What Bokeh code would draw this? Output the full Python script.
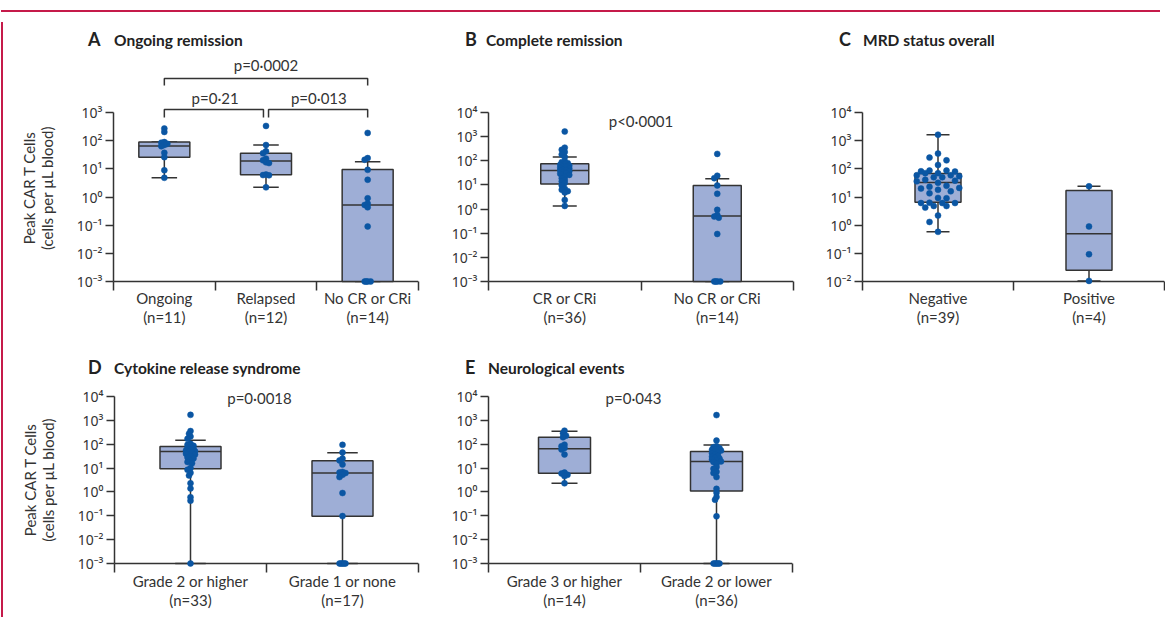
import numpy as np
from bokeh.plotting import figure
from bokeh.models import Range1d, FixedTicker, Label, ColumnDataSource, Div, Span
from bokeh.layouts import row, column
from bokeh.embed import file_html
from bokeh.resources import INLINE

# ---------------- data ----------------
# A  Ongoing remission
a_cats = ["Ongoing\n(n=11)", "Relapsed\n(n=12)", "No CR or CRi\n(n=14)"]
a_ongoing = [270, 204, 89, 85, 77, 70, 63, 37, 26, 8.9, 4.8]
a_relapsed = [333, 70, 42, 36, 23, 20, 17, 16, 6.3, 6.0, 5.9, 2.2]
a_nocr = [188, 24, 21, 9.2, 4.1, 0.9, 0.59, 0.52, 0.43, 0.09, 0.001, 0.001, 0.001, 0.001]
a_q1 = [26, 6.2, 0.001]
a_med = [65, 19, 0.52]
a_q3 = [90, 36, 9.5]
a_lo = [4.8, 2.2, 0.001]
a_hi = [90, 70, 18]
a_pvals = ["p=0·21", "p=0·013", "p=0·0002"]

# B  Complete remission
b_cats = ["CR or CRi\n(n=36)", "No CR or CRi\n(n=14)"]
b_cr = [1630, 350, 285, 230, 183, 142, 95, 88, 80, 75, 68, 63, 60, 57, 51, 48, 45,
        42, 40, 37, 34, 31, 29, 26, 22, 19, 16, 14, 12, 9.5, 7, 6.3, 5.5, 4.9, 2.4, 1.35]
b_nocr = [193, 24, 19, 9.5, 4.3, 0.93, 0.57, 0.49, 0.44, 0.093, 0.001, 0.001, 0.001, 0.001]
b_q1 = [11, 0.001]
b_med = [40, 0.52]
b_q3 = [75, 9.4]
b_lo = [1.35, 0.001]
b_hi = [142, 18]
b_pval = "p<0·0001"

# C  MRD status overall
c_cats = ["Negative\n(n=39)", "Positive\n(n=4)"]
c_neg = [1630, 347, 250, 200, 138, 87, 87, 82, 80, 70, 70, 59, 59, 55, 50, 50,
         41, 38, 36, 32, 25, 23, 21, 20, 18, 16, 13.5, 9.3, 9, 6.3, 6.1, 6.1, 6.1,
         4.8, 4.8, 4.2, 2.2, 1.3, 0.58]
c_pos = [24, 0.9, 0.093, 0.0105]
c_q1 = [6.5, 0.025]
c_med = [33, 0.5]
c_q3 = [68, 17]
c_lo = [0.58, 0.0105]
c_hi = [1630, 24]

# D  Cytokine release syndrome
d_cats = ["Grade 2 or higher\n(n=33)", "Grade 1 or none\n(n=17)"]
d_g2 = [1700, 355, 275, 210, 168, 104, 95, 86, 76, 70, 64, 59, 55, 51, 48, 45, 40,
        37, 31, 28, 25, 21, 18, 16, 10, 8.5, 6.3, 4.9, 2.3, 1.4, 0.6, 0.43, 0.001]
d_g1 = [94, 45, 25, 21, 14, 6.9, 6.5, 6.2, 5.2, 4.2, 0.9, 0.097,
        0.001, 0.001, 0.001, 0.001, 0.001]
d_q1 = [9.3, 0.095]
d_med = [50, 6.2]
d_q3 = [80, 20.5]
d_lo = [0.001, 0.001]
d_hi = [145, 44]
d_pval = "p=0·0018"

# E  Neurological events
e_cats = ["Grade 3 or higher\n(n=14)", "Grade 2 or lower\n(n=36)"]
e_g3 = [370, 287, 229, 195, 96, 82, 70, 60, 37, 6.5, 5.9, 5.2, 4.6, 2.3]
e_g2 = [1660, 142, 82, 75, 68, 63, 58, 54, 50, 46, 42, 37, 33, 30, 27, 25, 23, 21,
        19, 18, 15, 11, 9.3, 7, 6.2, 4.2, 1.35, 0.93, 0.62, 0.47, 0.095,
        0.001, 0.001, 0.001, 0.001, 0.001]
e_q1 = [6, 1.1]
e_med = [65, 19]
e_q3 = [195, 49]
e_lo = [2.3, 0.001]
e_hi = [350, 93]
e_pval = "p=0·043"

titles = [("A", "Ongoing remission"), ("B", "Complete remission"),
          ("C", "MRD status overall"), ("D", "Cytokine release syndrome"),
          ("E", "Neurological events")]
Y_LABEL_1 = "Peak CAR T Cells"
Y_LABEL_2 = "(cells per µL blood)"

# ---------------- styles ----------------
DARK = "#333333"
BOX_FILL = "#9eaed6"
PT = "#0b56a3"
RED = "#c51a4a"
FONT = "Lato"
TICKFONT = "Noto Sans"

SUP = str.maketrans("-0123456789", "⁻⁰¹²³⁴⁵⁶⁷⁸⁹")


def exp_label(k):
    return "10" + str(k).translate(SUP)


def swarm(vals, px_x, px_dec, d, step, kmax):
    vals = np.asarray(vals, dtype=float)
    order = np.argsort(-vals, kind="stable")
    cands = sorted([k * step for k in range(-kmax, kmax + 1)], key=lambda o: (abs(o), o))
    placed = []
    offs = np.zeros(len(vals))
    for i in order:
        ypx = np.log10(vals[i]) * px_dec
        best, best_d = cands[0], -1.0
        for o in cands:
            md = min([np.hypot(o - po, ypx - py) for po, py in placed] or [1e9])
            if md >= d:
                best = o
                break
            if md > best_d + 1e-9:
                best, best_d = o, md
        placed.append((best, ypx))
        offs[i] = best / px_x
    return offs


def panel(cats, groups, q1, med, q3, lo, hi, dec_lo, dec_hi, data_px,
          frame_w, frame_h, below_px, bl, br, bt, bb, box_px, sw,
          ylabel_pad=None, lab_standoff=-2):
    n = len(cats)
    px_dec = data_px / (dec_hi - dec_lo)
    start_exp = dec_lo - below_px / px_dec
    end_exp = start_exp + frame_h / px_dec
    p = figure(frame_width=frame_w, frame_height=frame_h,
               x_range=Range1d(0, n), y_range=Range1d(10.0 ** start_exp, 10.0 ** end_exp),
               y_axis_type="log", output_backend="svg", toolbar_location=None,
               min_border_left=bl, min_border_right=br,
               min_border_top=bt, min_border_bottom=bb)
    p.outline_line_color = None
    p.grid.visible = False
    p.background_fill_color = "white"
    p.border_fill_color = "white"

    # x-axis line sits at the lowest decade (a few px above the frame edge)
    p.add_layout(Span(location=10.0 ** dec_lo, dimension="width", line_color=DARK,
                      line_width=1.5, level="underlay"))

    px_x = frame_w / n
    bw = box_px / px_x
    cap = bw / 2
    xs = np.arange(n) + 0.5

    src = ColumnDataSource(dict(x=xs, q1=q1, med=med, q3=q3, lo=lo, hi=hi,
                                bl=xs - bw / 2, br=xs + bw / 2,
                                cl=xs - cap / 2, cr=xs + cap / 2))
    wk = dict(line_color=DARK, line_width=1.5)
    p.segment(x0="x", y0="q3", x1="x", y1="hi", source=src, **wk)
    p.segment(x0="x", y0="lo", x1="x", y1="q1", source=src, **wk)
    p.segment(x0="cl", y0="hi", x1="cr", y1="hi", source=src, **wk)
    p.segment(x0="cl", y0="lo", x1="cr", y1="lo", source=src, **wk)
    p.vbar(x="x", width=bw, bottom="q1", top="q3", source=src,
           fill_color=BOX_FILL, line_color=DARK, line_width=1.5)
    p.segment(x0="bl", y0="med", x1="br", y1="med", source=src, **wk)

    px, py = [], []
    for i, g in enumerate(groups):
        offs = swarm(g, px_x, px_dec, *sw)
        px.extend(list(xs[i] + offs))
        py.extend(list(g))
    p.scatter(x=px, y=py, size=6, fill_color=PT, line_color=PT, line_width=0.5)

    # y axis
    ya = p.yaxis[0]
    ks = list(range(dec_lo, dec_hi + 1))
    ya.ticker = FixedTicker(ticks=[10.0 ** k for k in ks], minor_ticks=[])
    ya.major_label_overrides = {10.0 ** k: exp_label(k) for k in ks}
    ya.bounds = (10.0 ** dec_lo, 10.0 ** dec_hi)
    ya.axis_line_color = DARK
    ya.axis_line_width = 1.5
    ya.major_tick_line_color = DARK
    ya.major_tick_line_width = 1.5
    ya.major_tick_out = 8
    ya.major_tick_in = 0
    ya.minor_tick_line_color = None
    ya.major_label_standoff = 3
    ya.major_label_text_font = TICKFONT
    ya.major_label_text_font_size = "14px"
    ya.major_label_text_color = DARK
    if ylabel_pad is not None:
        pad = ylabel_pad
        ya.axis_label = Y_LABEL_1 + pad + "\n" + Y_LABEL_2 + pad
        ya.axis_label_text_font = FONT
        ya.axis_label_text_font_size = "15px"
        ya.axis_label_text_font_style = "normal"
        ya.axis_label_text_color = DARK
        ya.axis_label_text_line_height = 1.0
        ya.axis_label_standoff = 18

    # x axis at the frame edge: line hidden, ticks reach up to the Span line
    xa = p.xaxis[0]
    xa.ticker = FixedTicker(ticks=list(xs), minor_ticks=list(range(n + 1)))
    xa.major_label_overrides = {float(x): c for x, c in zip(xs, cats)}
    xa.axis_line_color = None
    xa.major_tick_line_color = None
    xa.major_tick_out = 0
    xa.major_tick_in = 0
    xa.minor_tick_line_color = DARK
    xa.minor_tick_line_width = 1.5
    xa.minor_tick_out = 9 - below_px
    xa.minor_tick_in = below_px
    xa.major_label_standoff = lab_standoff
    xa.major_label_text_font = FONT
    xa.major_label_text_font_size = "15px"
    xa.major_label_text_color = DARK
    xa.major_label_text_line_height = 1.1
    return p


def ptext(p, x, y, text):
    p.add_layout(Label(x=x, y=y, text=text, text_font=FONT, text_font_size="15px",
                       text_color=DARK, text_align="center", text_baseline="middle"))


def title_div(items, width, height, top):
    spans = []
    for (letter, text), lx, tx in items:
        spans.append(
            f'<span style="position:absolute;left:{lx}px;top:{top}px;line-height:20px;'
            f'font-size:18px;font-weight:bold;">{letter}</span>'
            f'<span style="position:absolute;left:{tx}px;top:{top + 1}px;line-height:20px;'
            f'font-size:15.5px;font-weight:bold;">{text}</span>')
    html = (f'<div style="position:relative;width:{width}px;height:{height}px;'
            f'font-family:Lato,sans-serif;color:#222222;white-space:nowrap;">'
            + "".join(spans) + "</div>")
    return Div(text=html, width=width, height=height, styles={"margin": "0", "padding": "0"})


TOP_FH, TOP_DATA = 229, 169
BOT_FH, BOT_DATA = 183, 167
EM, EN = "\u2003", "\u2002"

pA = panel(a_cats, [a_ongoing, a_relapsed, a_nocr], a_q1, a_med, a_q3, a_lo, a_hi,
           -3, 3, TOP_DATA, 305, TOP_FH, 4, 105, 5, 4, 55, 51, (3, 1.5, 3), EM * 3)
pB = panel(b_cats, [b_cr, b_nocr], b_q1, b_med, b_q3, b_lo, b_hi,
           -3, 4, TOP_DATA, 305, TOP_FH, 4, 65, 5, 4, 55, 48, (3, 1.5, 3))
pC = panel(c_cats, [c_neg, c_pos], c_q1, c_med, c_q3, c_lo, c_hi,
           -2, 4, TOP_DATA, 302, TOP_FH, 4, 64, 1, 4, 55, 46, (8, 4.25, 5))
pD = panel(d_cats, [d_g2, d_g1], d_q1, d_med, d_q3, d_lo, d_hi,
           -3, 4, BOT_DATA, 304, BOT_FH, 4, 106, 5, 8, 47, 61, (3, 1.5, 3), EN, -1)
pE = panel(e_cats, [e_g3, e_g2], e_q1, e_med, e_q3, e_lo, e_hi,
           -3, 4, BOT_DATA, 304, BOT_FH, 4, 65, 5, 8, 47, 52, (3, 1.5, 3), None, -1)

# brackets and p-values for panel A
br_pairs = [(0, 1), (1, 2), (0, 2)]
br_top = [10 ** 3.107, 10 ** 3.107, 10 ** 4.21]
br_leg = [10 ** 2.82, 10 ** 2.82, 10 ** 3.96]
gap = 0.025
bxs, bys = [], []
for (i, j), yt, yl in zip(br_pairs, br_top, br_leg):
    x0 = i + 0.5 + (gap if (i, j) == (1, 2) else 0)
    x1 = j + 0.5 - (gap if (i, j) == (0, 1) else 0)
    bxs.append([x0, x0, x1, x1])
    bys.append([yl, yt, yt, yl])
pA.multi_line(xs=bxs, ys=bys, line_color=DARK, line_width=1.5)
ptext(pA, 1.0, 10 ** 3.5, a_pvals[0])
ptext(pA, 2.02, 10 ** 3.5, a_pvals[1])
ptext(pA, 1.5, 10 ** 4.67, a_pvals[2])
ptext(pB, 1.0, 10 ** 3.63, b_pval)
ptext(pD, 0.954, 10 ** 3.92, d_pval)
ptext(pE, 0.954, 10 ** 3.92, e_pval)

CONTENT_W = 415 + 375 + 367
top_titles = title_div([(titles[0], 80, 106), (titles[1], 457, 478), (titles[2], 831, 855)],
                       CONTENT_W, 35, 12)
bot_titles = title_div([(titles[3], 80, 106), (titles[4], 457, 480)],
                       CONTENT_W, 36, 17)

top_row = row(pA, pB, pC)
bot_row = row(pD, pE)
content = column(top_titles, top_row, bot_titles, bot_row)
CONTENT_H = 35 + 288 + 36 + 238
top_line = Div(text="", width=CONTENT_W + 2, height=2,
               styles={"background-color": RED})
left_line = Div(text="", width=2, height=CONTENT_H,
                styles={"background-color": RED})
root = column(top_line, row(left_line, content),
              styles={"position": "relative", "left": "-4px", "top": "5px"})

open("out.html", "w").write(file_html(root, INLINE, "Peak CAR T cells"))
